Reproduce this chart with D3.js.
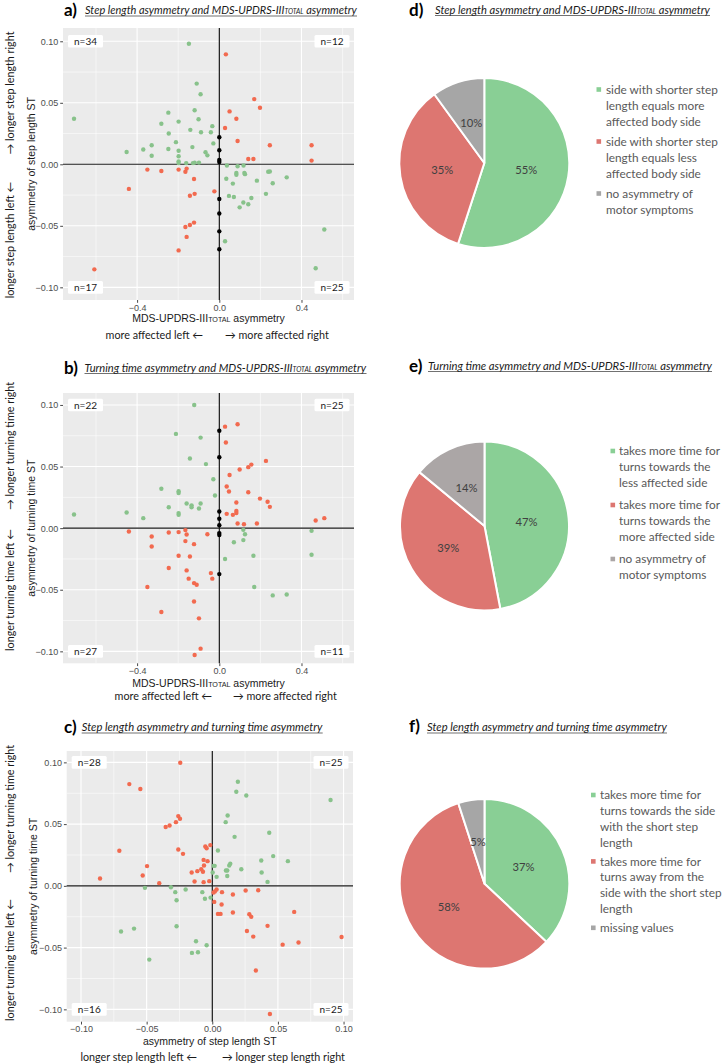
<!DOCTYPE html>
<html><head><meta charset="utf-8">
<script src="https://cdn.jsdelivr.net/npm/d3@7"></script>
<style>body{margin:0;background:#fff}svg{display:block}</style>
</head><body><svg id="c" width="723" height="1063"></svg>
<script>
// ---------------- DATA ----------------
const mdsTicks = [-0.4, 0, 0.4];
const asymTicks = [-0.10, -0.05, 0, 0.05, 0.10];
const stepTicks = [-0.10, -0.05, 0, 0.05, 0.10];

// panel a: x = MDS-UPDRS-III asymmetry, y = step length asymmetry
const aGreen = [[-0.707,0.037],[-0.148,0.098],[-0.110,0.0656],[-0.091,0.057],[-0.248,0.042],[-0.120,0.044],[-0.101,0.0366],[-0.282,0.033],[-0.198,0.0347],[-0.141,0.028],[-0.034,0.031],[-0.041,0.026],[-0.089,0.026],[-0.246,0.025],[-0.211,0.018],[-0.029,0.017],[-0.329,0.0155],[-0.370,0.012],[-0.248,0.0125],[-0.131,0.014],[-0.198,0.011],[-0.451,0.010],[-0.067,0.0098],[-0.329,0.007],[-0.198,0.0065],[-0.058,0.0073],[-0.198,0.0024],[-0.198,0.001],[-0.161,0.001],[-0.128,0.001],[-0.120,0.0014],[-0.099,0.0014],
  [0.037,-0.001],[0.089,-0.0016],[0.118,-0.001],[0.238,-0.006],[0.246,-0.0058],[0.083,-0.007],[0.083,-0.0085],[0.122,-0.007],[0.125,-0.008],[0.328,-0.0106],[0.034,-0.0117],[0.066,-0.0157],[0.183,-0.0133],[0.260,-0.0154],[0.047,-0.0257],[0.071,-0.0266],[0.227,-0.024],[0.156,-0.0274],[0.117,-0.031],[0.141,-0.0325],[0.099,-0.035],[0.028,-0.0626],[0.511,-0.053],[0.469,-0.0845]];
const aRed = [[0.032,0.0894],[0.170,0.053],[0.198,0.046],[0.050,0.043],[0.083,0.037],[0.028,0.0295],[0.089,0.019],[0.246,0.0155],[0.449,0.0155],[0.449,0.003],[0.141,0.0043],[0.166,0.0043],
  [-0.350,-0.0043],[-0.282,-0.0054],[-0.198,-0.0043],[-0.165,-0.006],[-0.159,-0.0035],[-0.123,-0.012],[-0.440,-0.020],[-0.143,-0.0255],[-0.120,-0.024],[-0.024,-0.022],[-0.165,-0.051],[-0.143,-0.0493],[-0.123,-0.0474],[-0.159,-0.059],[-0.198,-0.070],[-0.608,-0.0854]];
const aBlack = [[0,0.022],[0,0.0114],[0,0.0035],[0,0.0019],[0,-0.0282],[0,-0.040],[0,-0.0545],[0,-0.069]];
const aCounts = ["n=34","n=12","n=17","n=25"];

// panel b: x = MDS-UPDRS-III asymmetry, y = turning time asymmetry
const bGreen = [[-0.122,0.100],[-0.211,0.0765],[-0.091,0.0735],[-0.143,0.0565],[-0.065,0.052],[-0.029,0.0397],[-0.282,0.032],[-0.198,0.030],[-0.198,0.0285],[-0.021,0.0265],[-0.159,0.020],[-0.091,0.020],[-0.135,0.0185],[-0.135,0.017],[-0.246,0.017],[-0.099,0.016],[-0.198,0.0122],[-0.198,0.0108],[-0.707,0.0111],[-0.451,0.0127],[-0.370,0.0081],
  [0.117,-0.0014],[0.125,-0.0049],[0.117,-0.0097],[0.071,-0.0114],[0.449,-0.0022],[0.449,-0.0216],[0.028,-0.025],[0.166,-0.0224],[0.170,-0.0478],[0.260,-0.0546],[0.328,-0.0538]];
const bRed = [[0.028,0.0824],[0.089,0.0843],[0.032,0.0695],[0.227,0.0546],[0.156,0.0516],[0.141,0.0495],[0.099,0.0476],[0.050,0.0432],[0.036,0.0338],[0.047,0.0297],[0.141,0.0292],[0.198,0.024],[0.083,0.0208],[0.235,0.0214],[0.246,0.0173],[0.036,0.0116],[0.083,0.014],[0.083,0.0122],[0.066,0.0108],[0.089,0.0038],[0.120,0.0032],[0.183,0.0038],[0.469,0.0062],[0.511,0.0081],
  [-0.440,-0.0027],[-0.329,-0.0068],[-0.329,-0.0149],[-0.246,-0.0035],[-0.198,-0.0032],[-0.165,-0.0016],[-0.159,-0.0051],[-0.058,-0.0049],[-0.165,-0.0105],[-0.123,-0.013],[-0.198,-0.0224],[-0.143,-0.023],[-0.246,-0.0324],[-0.159,-0.0343],[-0.149,-0.041],[-0.041,-0.0365],[-0.034,-0.041],[-0.123,-0.0446],[-0.110,-0.046],[-0.350,-0.0478],[-0.123,-0.0595],[-0.282,-0.068],[-0.099,-0.0732],[-0.091,-0.0978],[-0.120,-0.103]];
const bBlack = [[0,0.079],[0,0.0576],[0,0.0135],[0,0.0076],[0,0.0024],[0,-0.004],[0,-0.0055],[0,-0.0373]];
const bCounts = ["n=22","n=25","n=27","n=11"];

// panel c: x = step length asymmetry, y = turning time asymmetry
const cGreen = [[0.0195,0.0843],[0.0183,0.0762],[0.0259,0.0732],[0.0901,0.0695],[0.0117,0.057],[0.0102,0.0516],[0.0434,0.043],[0.017,0.0397],[0.0043,0.0286],[0.0464,0.0241],[0.0373,0.0205],[0.0576,0.020],[0.001,0.0162],[0.0018,0.0162],[0.0137,0.018],[0.0129,0.0165],[0.0221,0.0135],[0.0104,0.0124],[0.0114,0.0124],[0.0376,0.0108],[0.0003,0.0108],[0.0033,0.0073],[0.0114,0.008],[0.0421,0.0032],
  [-0.0513,-0.0016],[-0.0315,-0.0011],[-0.0282,-0.0051],[-0.0272,-0.0116],[-0.0203,-0.003],[-0.0076,-0.0051],[-0.0056,-0.0105],[-0.0013,-0.0095],[-0.0272,-0.0327],[-0.0695,-0.037],[-0.0596,-0.0346],[-0.0124,-0.0449],[-0.0043,-0.0481],[-0.0155,-0.0543],[-0.0109,-0.0538],[-0.048,-0.0597]];
const cRed = [[-0.0244,0.0997],[-0.0632,0.0824],[-0.0548,0.0784],[-0.0259,0.0565],[-0.0246,0.0543],[-0.0277,0.0516],[-0.0325,0.0489],[-0.0355,0.0476],[-0.0708,0.0284],[-0.0259,0.0295],[-0.0223,0.0259],[-0.0053,0.0319],[-0.0043,0.0305],[-0.0015,0.033],[-0.0066,0.021],[-0.0036,0.020],[-0.0497,0.016],[-0.0063,0.0165],[-0.0157,0.0108],[-0.0114,0.0119],[-0.0084,0.0135],[-0.0071,0.0114],[-0.0530,0.0084],[-0.0855,0.006],[-0.0404,0.0022],[-0.0135,0.0035],[-0.0066,0.003],[-0.0023,0.0038],
  [0.0010,-0.0054],[0.0020,-0.0045],[0.0033,-0.0030],[0.0015,-0.013],[0.0074,-0.0051],[0.0071,-0.0151],[0.0043,-0.0227],[0.0063,-0.0227],[0.0157,-0.007],[0.0157,-0.0216],[0.0254,-0.0038],[0.035,-0.0035],[0.0282,-0.023],[0.0297,-0.0251],[0.0264,-0.0365],[0.0312,-0.0411],[0.0421,-0.0324],[0.0624,-0.0211],[0.0657,-0.0459],[0.0536,-0.0476],[0.0985,-0.0414],[0.0332,-0.0686],[0.0439,-0.1038]];
const cBlack = [];
const cCounts = ["n=28","n=25","n=16","n=25"];

// pies
const dValues = [55, 35, 10];
const eValues = [47, 39, 14];
const fValues = [37, 58, 5];
const dLegend = [["side with shorter step","length equals more","affected body side"],["side with shorter step","length equals less","affected body side"],["no asymmetry of","motor symptoms"]];
const eLegend = [["takes more time for","turns towards the","less affected side"],["takes more time for","turns towards the","more affected side"],["no asymmetry of","motor symptoms"]];
const fLegend = [["takes more time for","turns towards the side","with the short step","length"],["takes more time for","turns away from the","side with the short step","length"],["missing values"]];

// ---------------- DRAWING ----------------
const svg = d3.select("#c");
const CAL = "Lato, Carlito, 'Open Sans', sans-serif";
const ARI = "'Liberation Sans', Arial, Helvetica, sans-serif";
const GREEN_PT = "#88c28b", RED_PT = "#f26a4f";
const PIE_G = "#89cf95", PIE_R = "#dd7671", PIE_GR = "#a6a6a6";

function fit(t, w){
  const fs = parseFloat(t.attr("font-size"));
  const L = t.node().getComputedTextLength();
  t.attr("font-size", fs * w / L);
  return fs * w / L;
}
function measureFont(str, family, w, extra){
  const t = svg.append("text").attr("font-family", family).attr("font-size", 12).text(str);
  if (extra) extra(t);
  const fs = fit(t, w); t.remove(); return fs;
}
const arrowFs = measureFont("\u2192 longer step length right", CAL, 123);
const legendFs = measureFont("side with shorter step", CAL, 112);
const pctFs = measureFont("55%", CAL, 22);

function minors(major, dom){
  const s = major[1]-major[0], out = [];
  for (let v = major[0]-s/2; v <= dom[1]+1e-9; v += s) if (v >= dom[0]) out.push(v);
  return out.filter(v => !major.some(m => Math.abs(m-v) < 1e-9));
}

function panelTitle(letter, lx, lb, parts, tx, tb, w){
  svg.append("text").attr("x", lx).attr("y", lb).attr("font-family", CAL).attr("font-weight", 700)
    .attr("font-size", 17).attr("fill", "#000").text(letter);
  const t = svg.append("text").attr("x", tx).attr("y", tb).attr("font-family", CAL).attr("font-style", "italic")
    .attr("font-size", 11).attr("fill", "#1a1a1a");
  parts.forEach(p => t.append("tspan").attr("font-size", p[1] ? "0.62em" : null).text(p[0]));
  fit(t, w);
  svg.append("line").attr("x1", tx).attr("x2", tx + w).attr("y1", tb + 2).attr("y2", tb + 2)
    .attr("stroke", "#333").attr("stroke-width", 0.7);
}

function scatter(p){
  const g = svg.append("g");
  const x = d3.scaleLinear().domain(p.xDom).range([p.L, p.R]);
  const y = d3.scaleLinear().domain(p.yDom).range([p.B, p.T]);
  g.append("rect").attr("x", p.L).attr("y", p.T).attr("width", p.R - p.L).attr("height", p.B - p.T).attr("fill", "#EBEBEB");
  const grid = g.append("g").attr("stroke", "#fff");
  grid.selectAll(".xm").data(minors(p.xTicks, p.xDom)).join("line").attr("x1", d => x(d)).attr("x2", d => x(d)).attr("y1", p.T).attr("y2", p.B).attr("stroke-width", 0.55);
  grid.selectAll(".ym").data(minors(p.yTicks, p.yDom)).join("line").attr("y1", d => y(d)).attr("y2", d => y(d)).attr("x1", p.L).attr("x2", p.R).attr("stroke-width", 0.55);
  grid.selectAll(".xM").data(p.xTicks).join("line").attr("x1", d => x(d)).attr("x2", d => x(d)).attr("y1", p.T).attr("y2", p.B).attr("stroke-width", 1.1);
  grid.selectAll(".yM").data(p.yTicks).join("line").attr("y1", d => y(d)).attr("y2", d => y(d)).attr("x1", p.L).attr("x2", p.R).attr("stroke-width", 1.1);
  g.append("line").attr("x1", x(0)).attr("x2", x(0)).attr("y1", p.T).attr("y2", p.B).attr("stroke", "#000").attr("stroke-width", 1.1);
  g.append("line").attr("y1", y(0)).attr("y2", y(0)).attr("x1", p.L).attr("x2", p.R).attr("stroke", "#1a1a1a").attr("stroke-width", 1.1);
  const dots = (data, col) => g.append("g").selectAll("circle").data(data).join("circle")
    .attr("cx", d => x(d[0])).attr("cy", d => y(d[1])).attr("r", 2.2).attr("fill", col);
  dots(p.green, GREEN_PT); dots(p.red, RED_PT); dots(p.black, "#000");
  // axes
  const fmtY = d3.format(".2f");
  const ay = g.append("g").attr("transform", `translate(${p.L},0)`)
    .call(d3.axisLeft(y).tickValues(p.yTicks).tickSize(2.8).tickPadding(2).tickFormat(fmtY));
  const ax = g.append("g").attr("transform", `translate(0,${p.B})`)
    .call(d3.axisBottom(x).tickValues(p.xTicks).tickSize(2.8).tickPadding(1.5).tickFormat(d3.format(p.xFmt)));
  [ay, ax].forEach(a => {
    a.select(".domain").remove();
    a.selectAll(".tick line").attr("stroke", "#333").attr("stroke-width", 0.9);
    a.selectAll(".tick text").attr("fill", "#4d4d4d").attr("font-size", 9).attr("font-family", ARI);
  });
  // count labels
  const lab = [[p.L + 22.5, y(0.10)], [p.R - 22, y(0.10)], [p.L + 22.5, y(-0.10)], [p.R - 22, y(-0.10)]];
  p.counts.forEach((n, i) => {
    const [cx, cy] = lab[i];
    g.append("rect").attr("x", cx - 17.5).attr("y", cy - 6.3).attr("width", 35).attr("height", 12.6).attr("rx", 1.5).attr("fill", "#fff");
    g.append("text").attr("x", cx).attr("y", cy).attr("dy", "0.36em").attr("text-anchor", "middle")
      .attr("font-family", CAL).attr("font-size", 10).attr("fill", "#1a1a1a").text(n);
  });
  // y title
  const cy = (p.T + p.B) / 2;
  g.append("text").attr("transform", `translate(${p.yTitleX},${cy}) rotate(-90)`).attr("dy", "0.35em")
    .attr("text-anchor", "middle").attr("font-family", ARI).attr("font-size", 10.5).attr("fill", "#1a1a1a").text(p.yTitle);
  // outer arrow labels (y)
  g.append("text").attr("transform", `translate(10,${p.yUpMid}) rotate(-90)`).attr("dy", "0.35em")
    .attr("text-anchor", "middle").attr("font-family", CAL).attr("font-size", arrowFs).attr("fill", "#1a1a1a").text(p.yUp);
  g.append("text").attr("transform", `translate(10,${p.yDnMid}) rotate(-90)`).attr("dy", "0.35em")
    .attr("text-anchor", "middle").attr("font-family", CAL).attr("font-size", arrowFs).attr("fill", "#1a1a1a").text(p.yDn);
  // x title
  const xt = g.append("text").attr("x", (p.L + p.R) / 2).attr("y", p.xTitleY).attr("text-anchor", "middle")
    .attr("font-family", ARI).attr("font-size", 10.5).attr("fill", "#1a1a1a");
  p.xTitle.forEach(pt => xt.append("tspan").attr("font-size", pt[1] ? "0.68em" : null).text(pt[0]));
  g.append("text").attr("x", p.xLeftEnd).attr("y", p.xArrowY).attr("text-anchor", "end")
    .attr("font-family", CAL).attr("font-size", arrowFs).attr("fill", "#1a1a1a").text(p.xLeft);
  g.append("text").attr("x", p.xRightStart).attr("y", p.xArrowY).attr("text-anchor", "start")
    .attr("font-family", CAL).attr("font-size", arrowFs).attr("fill", "#1a1a1a").text(p.xRight);
}

const mdsTitle = [["MDS-UPDRS-III", false], ["TOTAL", true], [" asymmetry", false]];

scatter({L: 63, R: 354, T: 28, B: 300, xDom: [-0.7606, 0.6555], yDom: [-0.1103, 0.1108],
  xTicks: mdsTicks, yTicks: asymTicks, xFmt: ".1f", green: aGreen, red: aRed, black: aBlack, counts: aCounts,
  yTitle: "asymmetry of step length ST", yTitleX: 31,
  yUp: "\u2192 longer step length right", yUpMid: 93, yDn: "longer step length left \u2190", yDnMid: 240,
  xTitle: mdsTitle, xTitleY: 322, xLeft: "more affected left \u2190", xRight: "\u2192 more affected right",
  xLeftEnd: 203, xRightStart: 225, xArrowY: 339});

scatter({L: 63, R: 354, T: 393, B: 663.3, xDom: [-0.7606, 0.6555], yDom: [-0.1097, 0.1097],
  xTicks: mdsTicks, yTicks: asymTicks, xFmt: ".1f", green: bGreen, red: bRed, black: bBlack, counts: bCounts,
  yTitle: "asymmetry of turning time ST", yTitleX: 31,
  yUp: "\u2192 longer turning time right", yUpMid: 446, yDn: "longer turning time left \u2190", yDnMid: 590,
  xTitle: mdsTitle, xTitleY: 687, xLeft: "more affected left \u2190", xRight: "\u2192 more affected right",
  xLeftEnd: 212, xRightStart: 233, xArrowY: 699.5});

scatter({L: 66.7, R: 353, T: 751, B: 1021.7, xDom: [-0.1109, 0.1072], yDom: [-0.1100, 0.1092],
  xTicks: stepTicks, yTicks: asymTicks, xFmt: ".2f", green: cGreen, red: cRed, black: cBlack, counts: cCounts,
  yTitle: "asymmetry of turning time ST", yTitleX: 33,
  yUp: "\u2192 longer turning time right", yUpMid: 809, yDn: "longer turning time left \u2190", yDnMid: 960,
  xTitle: [["asymmetry of step length ST", false]], xTitleY: 1045, xLeft: "longer step length left \u2190", xRight: "\u2192 longer step length right",
  xLeftEnd: 197, xRightStart: 222, xArrowY: 1061});

// titles
panelTitle("a)", 64, 16, [["Step length asymmetry and MDS-UPDRS-III"], ["TOTAL", true], [" asymmetry"]], 85, 14, 272);
panelTitle("b)", 64, 374, [["Turning time asymmetry and MDS-UPDRS-III"], ["TOTAL", true], [" asymmetry"]], 84.5, 371.5, 282);
panelTitle("c)", 64, 732.5, [["Step length asymmetry and turning time asymmetry"]], 81.7, 731, 241);
panelTitle("d)", 409, 16, [["Step length asymmetry and MDS-UPDRS-III"], ["TOTAL", true], [" asymmetry"]], 435, 13.5, 275);
panelTitle("e)", 409, 371.5, [["Turning time asymmetry and MDS-UPDRS-III"], ["TOTAL", true], [" asymmetry"]], 428, 369.5, 284);
panelTitle("f)", 409, 732, [["Step length asymmetry and turning time asymmetry"]], 427, 731, 240);

// pies
function pie(p){
  const g = svg.append("g").attr("transform", `translate(${p.cx},${p.cy})`);
  const arcs = d3.pie().sort(null).value(d => d)(p.values);
  const arc = d3.arc().innerRadius(0).outerRadius(p.r);
  const lab = d3.arc().innerRadius(0).outerRadius(p.r);
  g.selectAll("path").data(arcs).join("path").attr("d", arc).attr("fill", (d, i) => p.colors[i])
    .attr("stroke", "#fff").attr("stroke-width", 2).attr("stroke-linejoin", "round");
  g.selectAll("text").data(arcs).join("text")
    .attr("transform", d => { const c = lab.centroid(d); return `translate(${c[0]},${c[1]})`; })
    .attr("dy", "0.36em").attr("text-anchor", "middle").attr("font-family", CAL).attr("font-size", pctFs)
    .attr("fill", "#404040").text(d => d.data + "%");
  // legend
  let yy = p.legY;
  p.legend.forEach((item, i) => {
    svg.append("rect").attr("x", p.mx).attr("y", yy - 2.3).attr("width", 4.6).attr("height", 4.6).attr("fill", p.colors[i]);
    item.forEach((line, j) => {
      svg.append("text").attr("x", p.tx).attr("y", yy + j * p.lh).attr("dy", "0.35em")
        .attr("font-family", CAL).attr("font-size", legendFs).attr("fill", "#595959").text(line);
    });
    yy += (item.length - 1) * p.lh + p.gap;
  });
}
pie({cx: 484.3, cy: 163, r: 85, values: dValues, colors: [PIE_G, PIE_R, PIE_GR], legend: dLegend, mx: 596.5, tx: 606, legY: 89.5, lh: 16, gap: 20});
pie({cx: 484.5, cy: 526, r: 84.5, values: eValues, colors: [PIE_G, PIE_R, "#aba6a6"], legend: eLegend, mx: 610.5, tx: 619, legY: 451, lh: 16, gap: 22});
pie({cx: 484.5, cy: 883.8, r: 84.8, values: fValues, colors: [PIE_G, PIE_R, PIE_GR], legend: fLegend, mx: 591, tx: 600, legY: 795, lh: 15.8, gap: 19});
</script></body></html>
